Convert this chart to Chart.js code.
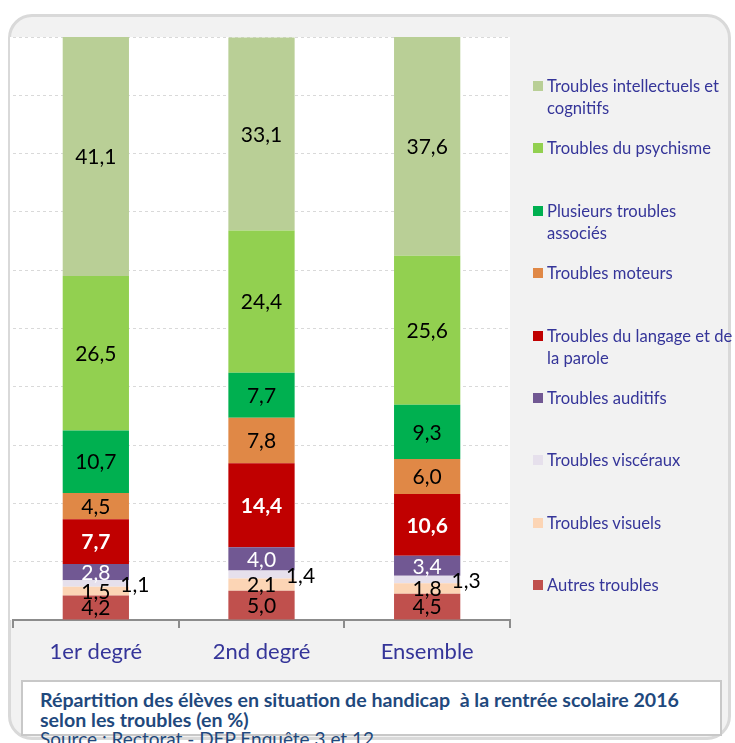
<!DOCTYPE html>
<html lang="fr">
<head>
<meta charset="utf-8">
<script src="https://cdn.jsdelivr.net/npm/chart.js@4"></script>
<style>
  html, body { margin: 0; padding: 0; background: #fff; width: 735px; height: 743px; overflow: hidden; font-family: Lato, "Open Sans", sans-serif; }
  #frame {
    position: absolute; left: 8px; top: 14px; width: 723px; height: 726px;
    border: 3px solid #d9d9d9; border-radius: 24px; background: #f2f2f2; box-sizing: border-box; overflow: hidden;
  }
  #chartWrap { position: absolute; left: 0; top: 0; width: 735px; height: 680px; }
  #legend { position: absolute; left: 533px; top: 0; width: 202px; }
  .item { position: absolute; left: 0; width: 202px; }
  .item .sw { position: absolute; left: 0; top: 6px; width: 10px; height: 10px; }
  .item .tx { position: absolute; left: 14px; top: 0; width: 188px; font-size: 16.6px; line-height: 22px; color: #353599; }
  #titleBox {
    position: absolute; left: 21px; top: 680px; width: 701px; height: 56px;
    background: #fff; border: 2px solid #c8c8c8; box-sizing: border-box;
  }
  #title { position: absolute; left: 40px; top: 690px; font-size: 19.6px; font-weight: bold; line-height: 20px; color: #1f497d; white-space: nowrap; }
  #source { position: absolute; left: 40px; top: 729px; font-size: 19px; line-height: 20px; color: #1f497d; white-space: nowrap; }
</style>
</head>
<body>
<div id="frame"></div>
<div id="chartWrap"><canvas id="chart" width="735" height="680"></canvas></div>
<div id="legend"></div>
<div id="titleBox"></div>
<div id="title">Répartition des élèves en situation de handicap&nbsp; à la rentrée scolaire 2016<br>selon les troubles (en %)</div>
<div id="source">Source : Rectorat - DEP Enquête 3 et 12</div>
<script>
// Categories (x axis)
const categories = ['1er degré', '2nd degré', 'Ensemble'];

// Series, stacked from bottom to top (values in %)
const autres        = [4.2, 5.0, 4.5];
const visuels       = [1.5, 2.1, 1.8];
const visceraux     = [1.1, 1.4, 1.3];
const auditifs      = [2.8, 4.0, 3.4];
const langage       = [7.7, 14.4, 10.6];
const moteurs       = [4.5, 7.8, 6.0];
const plusieurs     = [10.7, 7.7, 9.3];
const psychisme     = [26.5, 24.4, 25.6];
const intellectuels = [41.1, 33.1, 37.6];

const seriesNames = [
  'Autres troubles', 'Troubles visuels', 'Troubles viscéraux', 'Troubles auditifs',
  'Troubles du langage et de la parole', 'Troubles moteurs', 'Plusieurs troubles associés',
  'Troubles du psychisme', 'Troubles intellectuels et cognitifs'
];
const seriesValues = [autres, visuels, visceraux, auditifs, langage, moteurs, plusieurs, psychisme, intellectuels];
const seriesColors = ['#c0504d', '#fcd5b5', '#e6e0ec', '#715893', '#c00000', '#e08846', '#00b050', '#92d050', '#b9cf96'];

// label style per series: colour, bold, and whether it sits outside the bar
const labelColors = ['#000', '#000', '#000', '#fff', '#fff', '#000', '#000', '#000', '#000'];
const labelBold   = [false, false, false, false, true, false, false, false, false];
const labelOutside = [false, false, true, false, false, false, false, false, false];

const datasets = seriesNames.map((name, i) => ({
  label: name,
  data: seriesValues[i],
  backgroundColor: seriesColors[i],
  borderWidth: 0,
  categoryPercentage: 1.0,
  barPercentage: 0.4
}));

// white plot background
const plotBg = {
  id: 'plotBg',
  beforeDraw(chart) {
    const { ctx, chartArea: a } = chart;
    ctx.save();
    ctx.fillStyle = '#ffffff';
    ctx.fillRect(a.left - 3, a.top, a.right - a.left + 3, a.bottom - a.top);
    ctx.restore();
  }
};

// value labels inside the segments
const valueLabels = {
  id: 'valueLabels',
  afterDatasetsDraw(chart) {
    const ctx = chart.ctx;
    ctx.save();
    ctx.textAlign = 'center';
    ctx.textBaseline = 'middle';
    chart.data.datasets.forEach((ds, i) => {
      const meta = chart.getDatasetMeta(i);
      meta.data.forEach((bar, j) => {
        const v = ds.data[j];
        const txt = v.toFixed(1).replace('.', ',');
        let x = bar.x;
        let y = (bar.y + bar.base) / 2 + 1;
        if (labelOutside[i]) { x += 39; y += 1; }
        ctx.font = (labelBold[i] ? 'bold ' : '') + '21px Lato, "Open Sans", sans-serif';
        ctx.fillStyle = labelColors[i];
        ctx.fillText(txt, x, y);
      });
    });
    ctx.restore();
  }
};

new Chart(document.getElementById('chart'), {
  type: 'bar',
  data: { labels: categories, datasets: datasets },
  options: {
    responsive: false,
    animation: false,
    layout: { padding: { left: 13, right: 225, top: 37, bottom: 0 } },
    plugins: {
      legend: { display: false },
      tooltip: { enabled: false }
    },
    scales: {
      x: {
        stacked: true,
        afterFit(scale) { scale.height = 60; },
        grid: { offset: true, drawOnChartArea: false, drawTicks: true, tickLength: 8, color: '#8c8c8c', lineWidth: 2 },
        border: { display: true, color: '#8c8c8c', width: 2 },
        ticks: { color: '#353599', font: { family: 'Lato', size: 22 }, padding: 11 }
      },
      y: {
        stacked: true,
        min: 0,
        max: 100,
        afterFit(scale) { scale.width = 0; },
        ticks: { display: false, stepSize: 10 },
        border: { display: false, dash: [3, 3] },
        grid: { color: '#d9d9d9', drawTicks: false, lineWidth: 1 }
      }
    }
  },
  plugins: [plotBg, valueLabels]
});

// legend, top of stack first
const legend = document.getElementById('legend');
for (let k = seriesNames.length - 1, row = 0; k >= 0; k--, row++) {
  const item = document.createElement('div');
  item.className = 'item';
  item.style.top = (75 + row * 62.4) + 'px';
  item.innerHTML = '<div class="sw" style="background:' + seriesColors[k] + '"></div><div class="tx">' + seriesNames[k] + '</div>';
  legend.appendChild(item);
}
</script>
</body>
</html>
